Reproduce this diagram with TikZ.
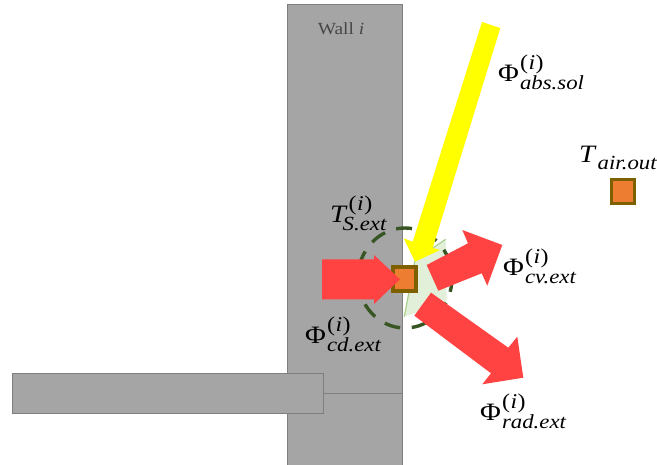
\documentclass[tikz,border=0pt]{standalone}
\usepackage{fontspec}
\newfontfamily\lblfont[FakeStretch=1.14]{Liberation Serif}
\definecolor{wallgray}{HTML}{A5A5A5}
\definecolor{walledge}{HTML}{7F7F7F}
\definecolor{flux}{HTML}{FF4343}
\definecolor{sun}{HTML}{FFFF00}
\definecolor{nodefill}{HTML}{ED7D31}
\definecolor{nodeedge}{HTML}{7F6000}
\definecolor{ringcol}{HTML}{375623}
\definecolor{sectfill}{HTML}{E2F0D9}
\definecolor{sectedge}{HTML}{A9D18E}
\newcommand\symb[3]{\mbox{\fontsize{25}{26}\selectfont #1}\kern 1pt\raisebox{-7.5pt}{\rlap{\fontsize{20}{22}\selectfont\itshape #3}}\raisebox{12.5pt}{\fontsize{21}{22}\selectfont #2}}
\newcommand\supi{(\kern .5pt\textit{i}\kern .5pt)}
\tikzset{
  wallpart/.style={fill=wallgray,draw=walledge,line width=1pt},
  tempnode/.style={draw=nodeedge,fill=nodefill,line width=3.6pt,minimum width=23pt,minimum height=24pt,inner sep=0pt,rectangle},
  fluxarrow/.style={fill=flux,draw=none},
  sunarrow/.style={fill=sun,draw=none},
  lbl/.style={inner sep=0pt,anchor=west,font=\lblfont},
}
\begin{document}
\begin{tikzpicture}[x=1pt,y=-1pt]
\useasboundingbox (0,0) rectangle (657,465);
% wall
\draw[wallpart] (287.5,4.5) rectangle (402.7,466);
\draw[walledge,line width=1pt] (323,393.5) -- (402.7,393.5);
\draw[wallpart] (12,373.5) rectangle (323.5,414);
\node[inner sep=0pt,text=black!72,font=\lblfont\fontsize{17}{19}\selectfont] (wall) at (341,28.5) {Wall \textit{i}};
% surface zone
\fill[sectfill] (415,260) -- (445.7,239.3) -- (446.7,302.7) -- (404.3,316.7) -- cycle;
\draw[sectedge,line width=1.2pt] (445.7,239.3) -- (415,260) -- (404.3,316.7);
\draw[ringcol,line width=3.4pt,dash pattern=on 16pt off 11.7pt,dash phase=2pt] (405,278) ellipse (47 and 50);
% nodes
\node[tempnode] (surf) at (404.2,279) {};
\node[tempnode] (air) at (623,191.5) {};
% arrows
\fill[sunarrow] (482,22) -- (500.3,28) -- (432.7,248) -- (440,250) -- (415,261.7) -- (403.7,238.3) -- (412.7,241.7) -- cycle;
\fill[fluxarrow] (322,259.3) -- (374,259.3) -- (374,255) -- (400,279.3) -- (374,304) -- (374,299.3) -- (322,299.3) -- cycle;
\fill[fluxarrow] (426.7,265) -- (468,243.3) -- (462.3,230) -- (502.3,245) -- (487.3,285.7) -- (481.7,273.3) -- (438.3,290.7) -- cycle;
\fill[fluxarrow] (431,292.7) -- (508.3,347.7) -- (517.3,336.7) -- (523.3,377.7) -- (482.3,384.3) -- (491,373.3) -- (414.3,315.7) -- cycle;
% labels
\node[lbl] (labsol) at (498,72) {\symb{Φ}{\supi}{abs.sol}};
\node[lbl] (lair) at (579,158) {\symb{\textit{T}}{}{air.out}};
\node[lbl] (lsurf) at (330,213) {\symb{\textit{T}}{\supi}{\kern-6pt S.ext}};
\node[lbl] (lcd) at (305,334) {\symb{Φ}{\supi}{cd.ext}};
\node[lbl] (lcv) at (503,266) {\symb{Φ}{\supi}{cv.ext}};
\node[lbl] (lrad) at (480,411) {\symb{Φ}{\supi}{rad.ext}};
\end{tikzpicture}
\end{document}
